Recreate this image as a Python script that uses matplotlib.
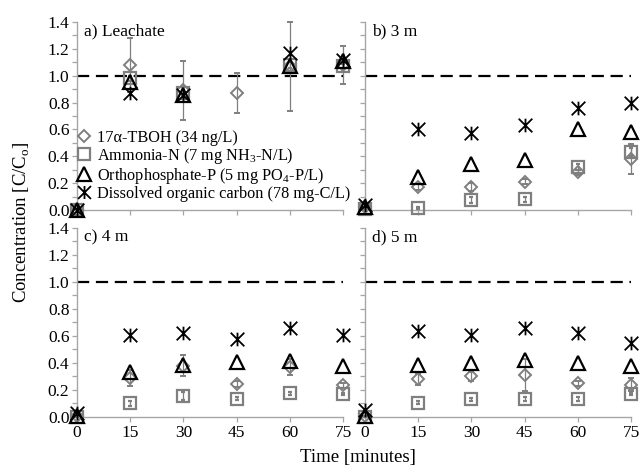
import numpy as np
import matplotlib
matplotlib.use("Agg")
import matplotlib.pyplot as plt
from matplotlib.path import Path
from matplotlib.lines import Line2D
from matplotlib.ticker import MultipleLocator, FormatStrFormatter

plt.rcParams["font.family"] = ["Liberation Serif", "DejaVu Serif"]
plt.rcParams["mathtext.fontset"] = "custom"
plt.rcParams["mathtext.rm"] = "Liberation Serif"

nan = np.nan
time = [0, 15, 30, 45, 60, 75]

panel_titles = ["a) Leachate", "b) 3 m", "c) 4 m", "d) 5 m"]
labels = ["17\u03b1-TBOH (34 ng/L)",
          "Ammonia-N (7 mg NH$_3$-N/L)",
          "Orthophosphate-P (5 mg PO$_4$-P/L)",
          "Dissolved organic carbon (78 mg-C/L)"]

# 17a-TBOH
tboh = [[0.0, 1.08, 0.89, 0.87, 1.07, 1.08],
        [0.02, 0.17, 0.17, 0.21, 0.28, 0.38],
        [0.01, 0.29, 0.38, 0.245, 0.37, 0.235],
        [0.01, 0.28, 0.30, 0.31, 0.25, 0.24]]
tboh_err = [[0.0, 0.20, 0.22, 0.15, 0.33, 0.14],
            [0.0, 0.02, 0.03, 0.02, 0.02, 0.11],
            [0.0, 0.06, 0.08, 0.02, 0.06, 0.02],
            [0.0, 0.04, 0.03, 0.12, 0.02, 0.05]]
# ammonia
nh3 = [[0.0, 0.98, 0.87, nan, 1.08, 1.07],
       [0.01, 0.015, 0.075, 0.08, 0.32, 0.43],
       [0.0, 0.10, 0.155, 0.135, 0.175, 0.17],
       [0.0, 0.105, 0.13, 0.13, 0.13, 0.17]]
nh3_err = [[0.0, 0.02, 0.02, 0.0, 0.02, 0.02],
           [0.0, 0.01, 0.02, 0.02, 0.02, 0.03],
           [0.0, 0.015, 0.03, 0.01, 0.01, 0.01],
           [0.0, 0.01, 0.01, 0.015, 0.015, 0.01]]
# orthophosphate
po4 = [[0.0, 0.95, 0.86, nan, 1.07, 1.11],
       [0.02, 0.245, 0.34, 0.37, 0.60, 0.58],
       [0.01, 0.335, 0.385, 0.41, 0.415, 0.38],
       [0.01, 0.385, 0.40, 0.42, 0.40, 0.38]]
# dissolved organic carbon
doc = [[0.0, 0.87, 0.86, nan, 1.17, 1.12],
       [0.04, 0.60, 0.57, 0.63, 0.76, 0.80],
       [0.03, 0.61, 0.625, 0.58, 0.66, 0.605],
       [0.05, 0.64, 0.61, 0.66, 0.625, 0.545]]

# excel style star marker (x with a vertical bar)
star = Path([(-1, -1), (1, 1), (-1, 1), (1, -1), (0, -1), (0, 1)],
            [Path.MOVETO, Path.LINETO, Path.MOVETO, Path.LINETO, Path.MOVETO, Path.LINETO])

grey = "#7f7f7f"
spine_c = "#a6a6a6"

fig = plt.figure(figsize=(6.43, 4.73), dpi=100)
positions = [[0.1198, 0.556, 0.4137, 0.3975],
             [0.5677, 0.556, 0.4137, 0.3975],
             [0.1198, 0.1184, 0.4137, 0.3996],
             [0.5677, 0.1184, 0.4137, 0.3996]]

d_style = dict(marker="D", ms=6.2, mfc="none", mec=grey, mew=1.4)
s_style = dict(marker="s", ms=9.2, mfc="none", mec=grey, mew=1.6)
t_style = dict(marker="^", ms=10, mfc="none", mec="black", mew=1.6)
x_style = dict(marker=star, ms=9.8, mfc="none", mec="black", mew=1.3)

for i in range(4):
    ax = fig.add_axes(positions[i])
    ax.axhline(1.0, color="black", lw=1.6, dashes=(5.5, 3), zorder=1)

    h1 = ax.errorbar(time, tboh[i], yerr=tboh_err[i], ls="none", ecolor=grey,
                     elinewidth=0.9, capsize=2.2, clip_on=False, zorder=3, **d_style)
    h2 = ax.errorbar(time, nh3[i], yerr=nh3_err[i], ls="none", ecolor=grey,
                     elinewidth=0.9, capsize=1.5, clip_on=False, zorder=3, **s_style)
    ax.plot(time, po4[i], ls="none", clip_on=False, zorder=4, **t_style)
    ax.plot(time, doc[i], ls="none", clip_on=False, zorder=5, **x_style)
    for h in (h1, h2):
        for part in h.lines[1] + h.lines[2]:
            part.set_clip_on(False)

    ax.set_xlim(0, 75)
    ax.set_ylim(0, 1.4)
    ax.set_xticks(time)
    ax.yaxis.set_major_locator(MultipleLocator(0.2))
    ax.yaxis.set_minor_locator(MultipleLocator(0.1))
    ax.yaxis.set_major_formatter(FormatStrFormatter("%.1f"))
    ax.tick_params(axis="both", which="both", direction="out", length=3.5,
                   width=0.9, color=spine_c, labelsize=12.5, pad=2)
    for s in ["top", "right"]:
        ax.spines[s].set_visible(False)
    for s in ["left", "bottom"]:
        ax.spines[s].set_color(spine_c)
        ax.spines[s].set_linewidth(1.0)
    if i < 2:
        ax.tick_params(axis="x", labelbottom=False)
    if i % 2 == 1:
        ax.tick_params(axis="y", labelleft=False)

    ax.text(0.025, 0.99, panel_titles[i], transform=ax.transAxes, fontsize=12.5,
            va="top", ha="left")

    if i == 0:
        handles = [Line2D([], [], ls="none", **st) for st in (d_style, s_style, t_style, x_style)]
        ax.legend(handles, labels, loc="upper left", frameon=False,
                  bbox_to_anchor=(0.0, 0.425), fontsize=11.7, handlelength=0.8,
                  handletextpad=0.45, labelspacing=0.0, borderaxespad=0,
                  borderpad=0, markerscale=0.95)

fig.text(0.034, 0.53, "Concentration [C/C$_\\mathrm{o}$]", rotation=90,
         ha="center", va="center", fontsize=13.5)
fig.text(0.557, 0.033, "Time [minutes]", ha="center", va="center", fontsize=13.5)

fig.savefig("out.png", dpi=100)
